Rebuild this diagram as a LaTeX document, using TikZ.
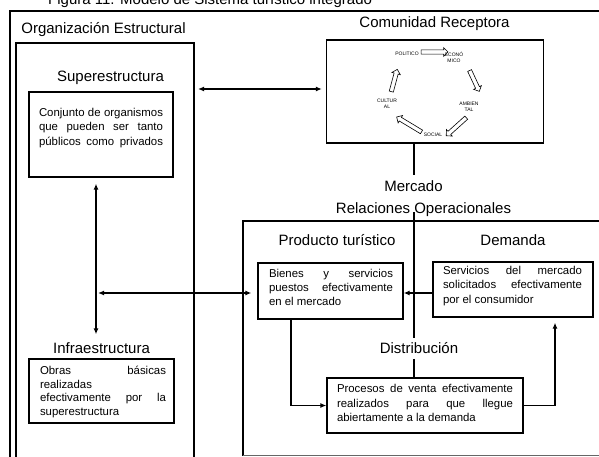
\documentclass[tikz,border=0pt]{standalone}
\usepackage{fontspec}
\setmainfont{Liberation Sans}
\usetikzlibrary{shapes.arrows,arrows.meta}
\begin{document}
\begin{tikzpicture}[x=1pt,y=-1pt,
  lbl/.style={font=\fontsize{15}{18}\selectfont, inner sep=0pt},
  box/.style={draw, line width=1.3pt, inner sep=0pt},
  btxt/.style={font=\fontsize{11.4}{14.4}\selectfont, inner sep=0pt, align=left},
  frame/.style={line width=1.2pt},
  conn/.style={line width=1.3pt},
  arr/.style={line width=1.3pt, -{Latex[length=6pt,width=5pt]}},
  darr/.style={line width=1.3pt, {Latex[length=6pt,width=5pt]}-{Latex[length=6pt,width=5pt]}},
  tinytxt/.style={font=\fontsize{5}{5.8}\selectfont, inner sep=0pt, align=center},
  harrow/.style={single arrow, draw, line width=0.6pt, inner sep=1.8pt, minimum width=8pt, single arrow head extend=2.2pt}
]
\useasboundingbox (0,0) rectangle (599,457);
\clip (0,0) rectangle (599,457);

% caption (clipped at top, as in the reference)
\node[lbl, anchor=base west] (caption) at (48,4.5) {Figura 11. Modelo de Sistema turístico integrado};

% outer frame and Organización box
\draw[frame] (615,11) -- (10,11) -- (10,470);
\draw[frame] (16,470) -- (16,43) -- (194,43) -- (194,470);
\node[lbl] (orglbl) at (103.5,30) {Organización Estructural};

% Superestructura
\node[lbl] (superlbl) at (110.5,78) {Superestructura};
\node[box, minimum width=144pt, minimum height=85pt] (conjunto) at (101,134.5) {};
\node[btxt] (conjuntotxt) at (101,128) {\makebox[124pt][s]{Conjunto de organismos}\\\makebox[124pt][s]{que pueden ser tanto}\\\makebox[124pt][s]{públicos como privados}};

% Infraestructura
\node[lbl] (infralbl) at (101.5,348) {Infraestructura};
\node[box, minimum width=145pt, minimum height=64pt] (infra) at (101.5,391) {};
\node[btxt, font=\fontsize{11.4}{13.8}\selectfont] (infratxt) at (103,392) {\makebox[126pt][s]{Obras básicas}\\\makebox[126pt][l]{realizadas}\\\makebox[126pt][s]{efectivamente por la}\\\makebox[126pt][l]{superestructura}};

\draw[darr, shorten <=6pt, shorten >=8pt] ([xshift=-5pt]conjunto.south) -- ([xshift=-5.5pt]infralbl.north);

% Comunidad Receptora
\node[lbl] (comlbl) at (434.5,24) {Comunidad Receptora};
\node[box, minimum width=217pt, minimum height=103pt] (comunidad) at (435,91.5) {};
\coordinate (orgR) at (194,89);
\draw[darr, shorten <=4pt, shorten >=4pt] (orgR) -- (comunidad.west |- orgR);

% cycle
\node[tinytxt] (pol) at (407,54) {POLITICO};
\node[tinytxt] (eco) at (454,57.5) {ECONÓ\\MICO};
\node[tinytxt] (amb) at (469,107) {AMBIEN\\TAL};
\node[tinytxt] (soc) at (433,135) {SOCIAL};
\node[tinytxt] (cul) at (387,104) {CULTUR\\AL};
\node[harrow, minimum height=27pt] (a1) at (433.5,52) {};
\node[harrow, minimum height=23pt, rotate=-65] (a2) at (474,80) {};
\node[harrow, minimum height=27pt, rotate=-138] (a3) at (457,126) {};
\node[harrow, minimum height=29pt, rotate=149] (a4) at (410,125) {};
\node[harrow, minimum height=23pt, rotate=75] (a5) at (394,81.5) {};

% Mercado
\node[lbl] (mercado) at (413.5,186) {Mercado};
\node[lbl] (rellbl) at (423.5,210) {Relaciones Operacionales};
\draw[conn] ([xshift=-21pt]comunidad.south) -- ([xshift=0.5pt,yshift=5pt]mercado.north);
\coordinate (relline) at (414,212);
\draw[frame] (615,221) -- (243,221) -- (243,455.5);
\draw[line width=1pt, black!60] (243,455.5) -- (615,455.5);

\node[lbl] (prodlbl) at (337,240) {Producto turístico};
\node[lbl] (demlbl) at (513,240) {Demanda};

\node[box, minimum width=145pt, minimum height=56pt] (bienes) at (330.5,291) {};
\node[btxt] (bienestxt) at (331,287.5) {\makebox[124pt][s]{Bienes y servicios}\\\makebox[124pt][s]{puestos efectivamente}\\\makebox[124pt][l]{en el mercado}};

\node[box, minimum width=160pt, minimum height=55pt] (servicios) at (513,289.5) {};
\node[btxt] (serviciostxt) at (512.5,286) {\makebox[139pt][s]{Servicios del mercado}\\\makebox[139pt][s]{solicitados efectivamente}\\\makebox[139pt][l]{por el consumidor}};

\node[lbl] (distrib) at (419,348) {Distribución};
\node[box, minimum width=196pt, minimum height=55pt] (procesos) at (425,405.5) {};
\node[btxt] (procesostxt) at (425,403) {\makebox[176pt][s]{Procesos de venta efectivamente}\\\makebox[176pt][s]{realizados para que llegue}\\\makebox[176pt][l]{abiertamente a la demanda}};

\draw[conn] (relline) -- ([yshift=4pt]relline |- distrib.north);
\draw[conn] ([yshift=-5pt]distrib.south -| relline) -- (procesos.north -| relline);

% arrows
\coordinate (hL) at (98,293);
\draw[darr, shorten >=6pt] (hL) -- (bienes.west |- hL);
\draw[arr] (servicios.west |- hL) -- (bienes.east |- hL);
\draw[arr] ([xshift=-39.5pt]bienes.south) |- (procesos.west);
\draw[arr, shorten >=5pt] (procesos.east) -| ([xshift=42pt]servicios.south);
\end{tikzpicture}
\end{document}
